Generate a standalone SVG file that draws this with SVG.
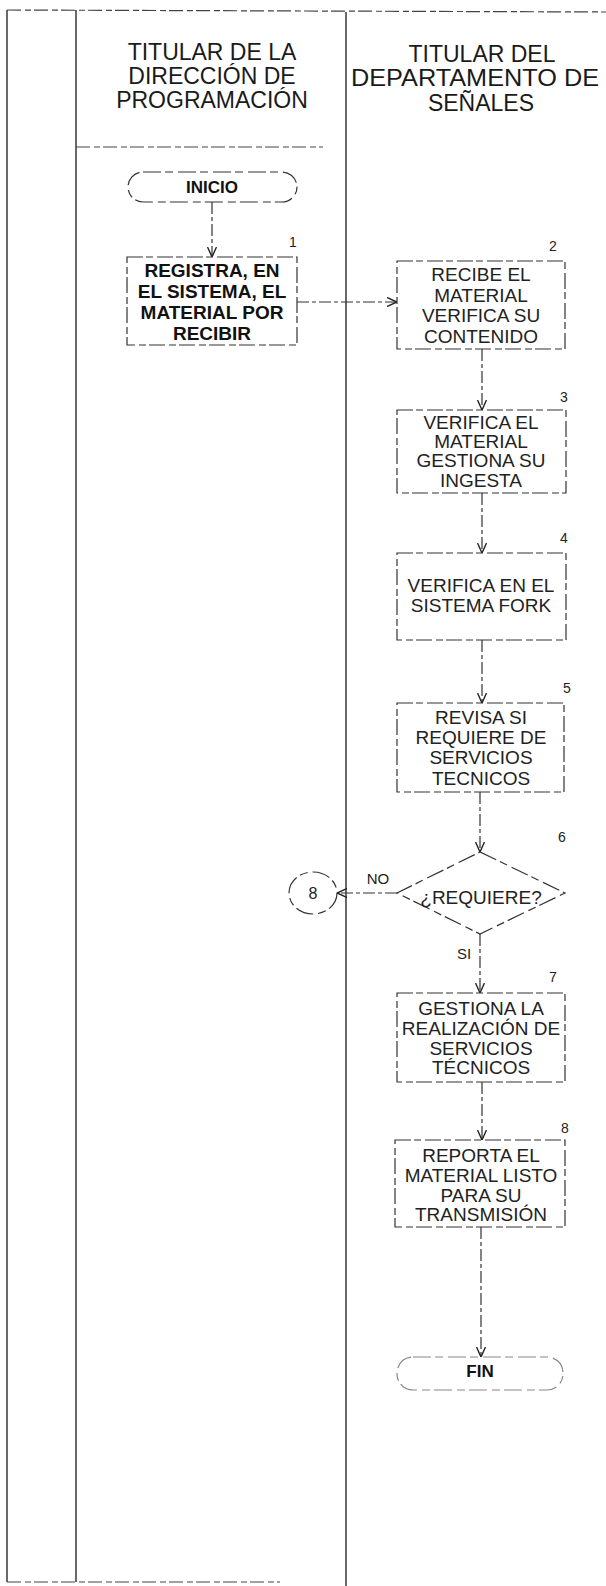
<svg xmlns="http://www.w3.org/2000/svg" width="606" height="1586" viewBox="0 0 606 1586">
<defs>
<style>
.lane{stroke:#2a2a2a;stroke-width:1.4;fill:none}
.rule{stroke:#444;stroke-width:1.2;fill:none;stroke-dasharray:14 4 6 3}
.box{fill:#fff;stroke:#333;stroke-width:1.2;stroke-dasharray:16 3 7 4}
.term{fill:#fff;stroke:#333;stroke-width:1.2;stroke-dasharray:18 4 8 5}
.t{font-family:"Liberation Sans",Arial,sans-serif;font-size:19px;fill:#222;text-anchor:middle}
.b{font-weight:bold;fill:#111}
.h{font-family:"Liberation Sans",Arial,sans-serif;font-size:23px;fill:#1a1a1a;text-anchor:middle}
.n{font-family:"Liberation Sans",Arial,sans-serif;font-size:14px;fill:#222;text-anchor:middle}
.c{stroke:#333;stroke-width:1.2;fill:none;stroke-dasharray:12 3 4 3;marker-end:url(#ah)}
</style>
<marker id="ah" viewBox="0 0 10 10" refX="10" refY="5" markerWidth="10" markerHeight="10" markerUnits="userSpaceOnUse" orient="auto">
<path d="M0,0.5 L10,5 L0,9.5" fill="none" stroke="#222" stroke-width="1.4"/>
</marker>
</defs>
<rect width="606" height="1586" fill="#fff"/>

<g id="lanes">
<line class="lane" x1="7" y1="10" x2="7" y2="1582"/>
<line class="lane" x1="76" y1="10" x2="76" y2="1582"/>
<line class="lane" x1="346" y1="12" x2="346" y2="1586"/>
<line class="rule" x1="7" y1="10" x2="606" y2="12"/>
<line class="rule" x1="76" y1="147" x2="323" y2="147"/>
<line class="rule" x1="7" y1="1582" x2="280" y2="1582"/>
</g>

<g id="header-programacion">
<text class="h" x="212" y="60">TITULAR DE LA</text>
<text class="h" x="212" y="84">DIRECCIÓN DE</text>
<text class="h" x="212" y="108">PROGRAMACIÓN</text>
</g>
<g id="header-senales">
<text class="h" x="482" y="62">TITULAR DEL</text>
<text class="h" x="475" y="86" textLength="248" lengthAdjust="spacingAndGlyphs">DEPARTAMENTO DE</text>
<text class="h" x="481" y="111">SEÑALES</text>
</g>

<g id="connectors">
<line class="c" x1="212" y1="202" x2="212" y2="257"/>
<line class="c" x1="297" y1="302" x2="397" y2="302"/>
<line class="c" x1="482" y1="349" x2="482" y2="410"/>
<line class="c" x1="482" y1="493" x2="482" y2="553"/>
<line class="c" x1="482" y1="640" x2="482" y2="703"/>
<line class="c" x1="480" y1="792" x2="480" y2="852"/>
<line class="c" x1="397" y1="893" x2="337" y2="893"/>
<line class="c" x1="480" y1="934" x2="480" y2="993"/>
<line class="c" x1="482" y1="1082" x2="482" y2="1140"/>
<line class="c" x1="481" y1="1227" x2="481" y2="1357"/>
</g>

<g id="inicio">
<rect class="term" x="128" y="172" width="169" height="30" rx="15"/>
<text class="t b" x="212" y="193" style="font-size:17px">INICIO</text>
</g>

<g id="step1">
<rect class="box" x="127" y="257" width="170" height="88"/>
<text class="n" x="293" y="247">1</text>
<text class="t b" x="212" y="277">REGISTRA, EN</text>
<text class="t b" x="212" y="298">EL SISTEMA, EL</text>
<text class="t b" x="212" y="319">MATERIAL POR</text>
<text class="t b" x="212" y="340">RECIBIR</text>
</g>

<g id="step2">
<rect class="box" x="397" y="261" width="168" height="88"/>
<text class="n" x="553" y="251">2</text>
<text class="t" x="481" y="281">RECIBE EL</text>
<text class="t" x="481" y="302">MATERIAL</text>
<text class="t" x="481" y="322">VERIFICA SU</text>
<text class="t" x="481" y="343">CONTENIDO</text>
</g>

<g id="step3">
<rect class="box" x="397" y="410" width="169" height="83"/>
<text class="n" x="564" y="402">3</text>
<text class="t" x="481" y="429">VERIFICA EL</text>
<text class="t" x="481" y="448">MATERIAL</text>
<text class="t" x="481" y="467">GESTIONA SU</text>
<text class="t" x="481" y="487">INGESTA</text>
</g>

<g id="step4">
<rect class="box" x="397" y="553" width="169" height="87"/>
<text class="n" x="564" y="543">4</text>
<text class="t" x="481" y="592">VERIFICA EN EL</text>
<text class="t" x="481" y="612">SISTEMA FORK</text>
</g>

<g id="step5">
<rect class="box" x="397" y="703" width="167" height="89"/>
<text class="n" x="567" y="693">5</text>
<text class="t" x="481" y="724">REVISA SI</text>
<text class="t" x="481" y="744">REQUIERE DE</text>
<text class="t" x="481" y="764">SERVICIOS</text>
<text class="t" x="481" y="785">TECNICOS</text>
</g>

<g id="decision6">
<polygon class="term" points="480,852 565,893 480,934 397,893"/>
<text class="n" x="562" y="842">6</text>
<text class="t" x="481" y="904">¿REQUIERE?</text>
<text class="n" x="378" y="884" style="font-size:15px">NO</text>
<text class="n" x="464" y="959" style="font-size:15px">SI</text>
</g>

<g id="connector8">
<ellipse class="term" cx="313" cy="893" rx="24" ry="21"/>
<text class="n" x="313" y="899" style="font-size:16px">8</text>
</g>

<g id="step7">
<rect class="box" x="397" y="993" width="168" height="89"/>
<text class="n" x="553" y="982">7</text>
<text class="t" x="481" y="1015">GESTIONA LA</text>
<text class="t" x="481" y="1035">REALIZACIÓN DE</text>
<text class="t" x="481" y="1055">SERVICIOS</text>
<text class="t" x="481" y="1074">TÉCNICOS</text>
</g>

<g id="step8">
<rect class="box" x="395" y="1140" width="170" height="87"/>
<text class="n" x="565" y="1133">8</text>
<text class="t" x="481" y="1162">REPORTA EL</text>
<text class="t" x="481" y="1182">MATERIAL LISTO</text>
<text class="t" x="481" y="1202">PARA SU</text>
<text class="t" x="481" y="1221">TRANSMISIÓN</text>
</g>

<g id="fin">
<rect class="term" x="397" y="1357" width="166" height="33" rx="16" style="stroke:#888"/>
<text class="t b" x="480" y="1377" style="font-size:17px">FIN</text>
</g>
</svg>
